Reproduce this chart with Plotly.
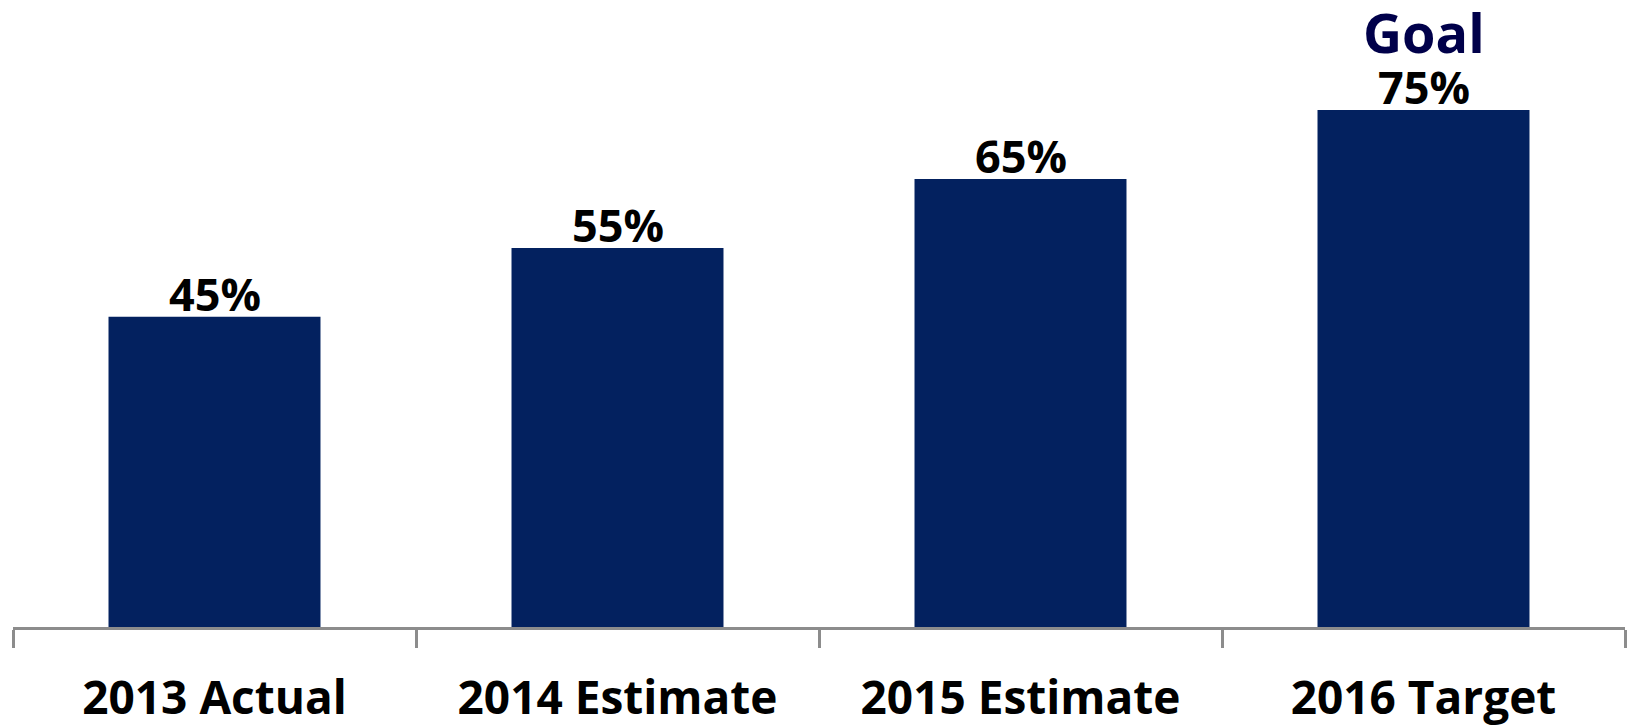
import plotly.graph_objects as go

# Share of target reached, by year
categories = ["2013 Actual", "2014 Estimate", "2015 Estimate", "2016 Target"]
values = [45, 55, 65, 75]
value_labels = ["45%", "55%", "65%", "75%"]
goal_label = "Goal"

BAR_COLOR = "#03215f"
GOAL_COLOR = "#00004a"
AXIS_GRAY = "#8c8c8c"
FONT = "Open Sans"

fig = go.Figure(
    go.Bar(
        x=categories,
        y=values,
        marker=dict(color=BAR_COLOR, line=dict(width=0)),
        hoverinfo="skip",
    )
)

annotations = []
for cat, val, lab in zip(categories, values, value_labels):
    annotations.append(dict(
        x=cat, y=val, xref="x", yref="y",
        text=f"<b>{lab}</b>", showarrow=False,
        yanchor="bottom", yshift=-8, borderpad=0,
        font=dict(family=FONT, size=45, color="#000000"),
    ))
annotations.append(dict(
    x=categories[-1], y=values[-1], xref="x", yref="y",
    text=f"<b>{goal_label}</b>", showarrow=False,
    yanchor="bottom", yshift=40, borderpad=0,
    font=dict(family=FONT, size=54, color=GOAL_COLOR),
))

fig.update_layout(
    width=1633, height=726,
    margin=dict(l=13, r=8, t=0, b=99, autoexpand=False),
    paper_bgcolor="white", plot_bgcolor="white",
    bargap=0.474,
    showlegend=False,
    annotations=annotations,
    xaxis=dict(
        type="category",
        range=[-0.5, 3.5],
        automargin=False,
        showline=True, linecolor=AXIS_GRAY, linewidth=3,
        ticks="outside", tickson="boundaries",
        ticklen=18, tickwidth=3, tickcolor=AXIS_GRAY,
        tickfont=dict(family=FONT, size=46, color="#000000"),
        ticklabelstandoff=29,
        showgrid=False, zeroline=False,
        tickprefix="<b>", ticksuffix="</b>",
    ),
    yaxis=dict(
        range=[0, 90.96],
        visible=False, showgrid=False, zeroline=False,
    ),
)

fig.write_html("out.html")
